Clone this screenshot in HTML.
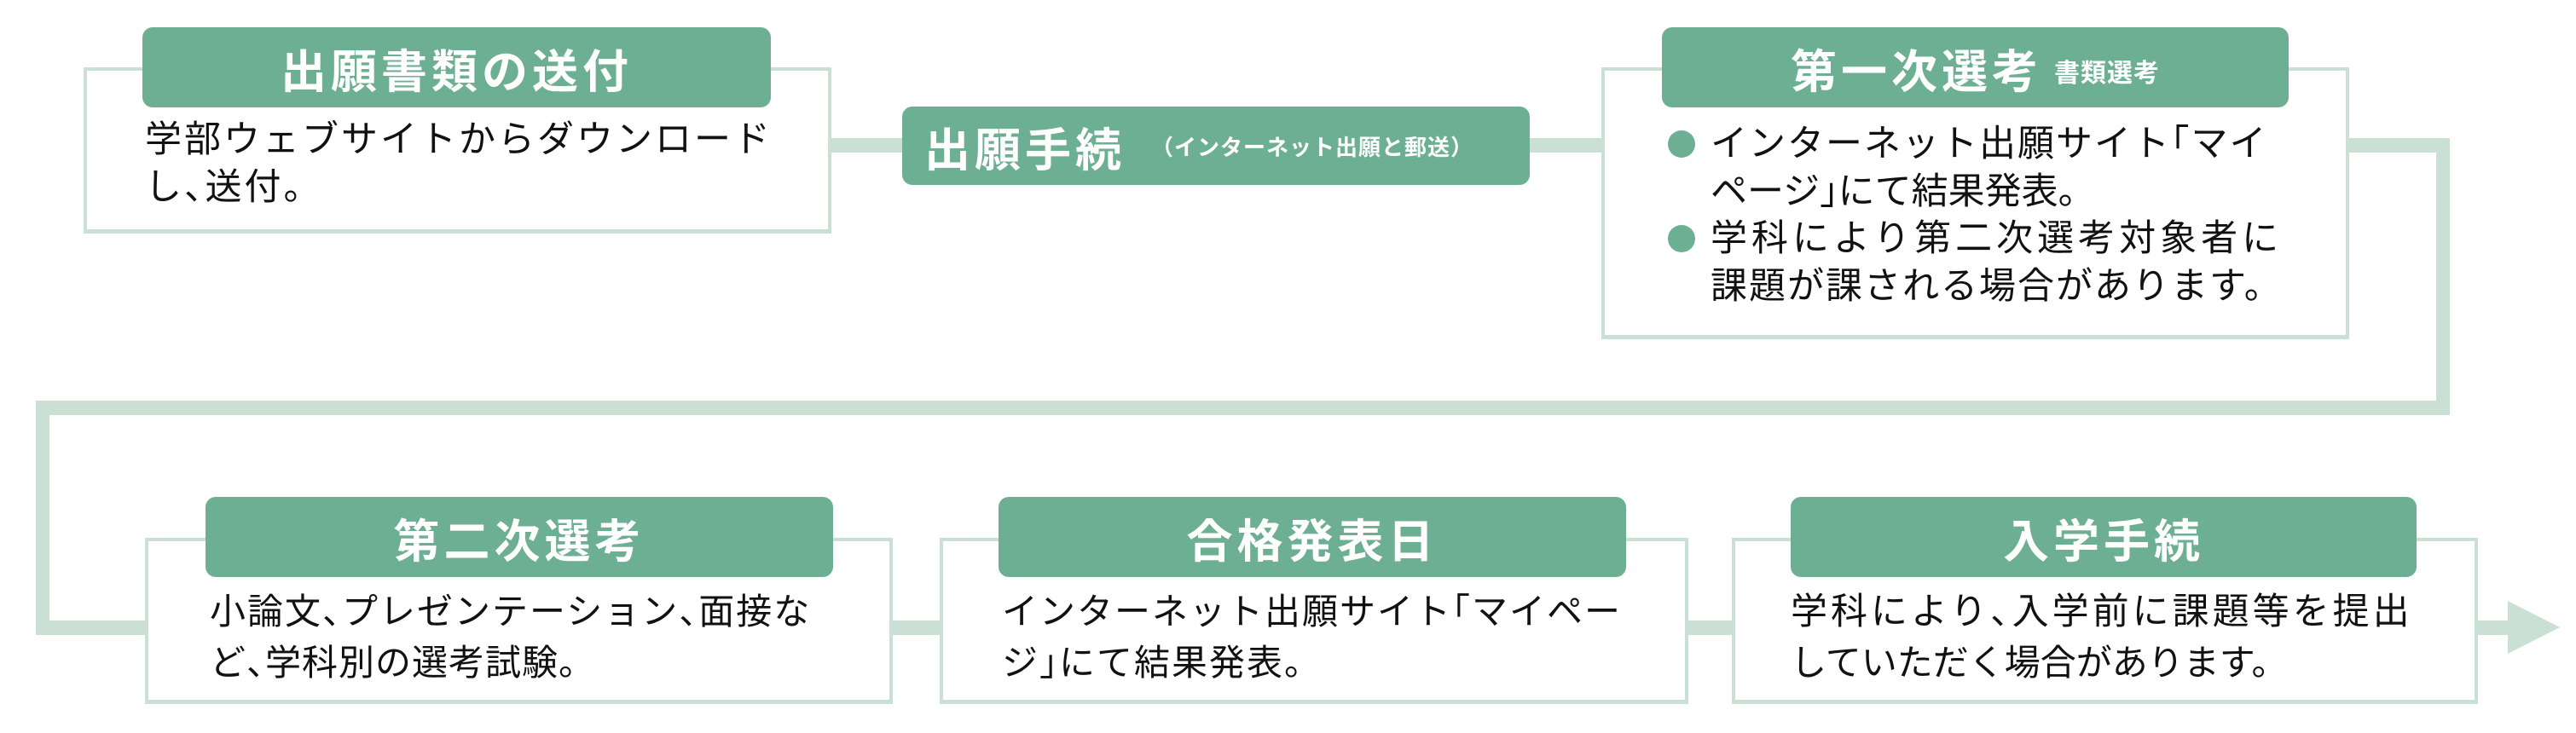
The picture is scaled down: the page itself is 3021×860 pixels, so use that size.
<!DOCTYPE html>
<html><head><meta charset="utf-8"><style>
body{margin:0;width:3021px;height:860px;background:#fff;position:relative;overflow:hidden;font-family:"Liberation Sans","Noto Sans CJK JP",sans-serif;}
.a{position:absolute;}
.band{position:absolute;background:#cbe0d5;}
.box{position:absolute;border:4px solid #cbe0d5;border-bottom-width:5px;background:#fff;box-sizing:border-box;}
.hd{position:absolute;background:#6daf93;border-radius:12px;color:#fff;font-weight:bold;font-size:54px;letter-spacing:5px;display:flex;align-items:center;justify-content:center;white-space:nowrap;}
.t{position:absolute;font-size:43px;line-height:56px;color:#111;white-space:nowrap;}
.h{font-feature-settings:"halt";}
.dot{position:absolute;width:32px;height:32px;border-radius:50%;background:#6daf93;}
</style></head><body>
<div class="band" style="left:970px;top:162px;width:1900px;height:17px"></div>
<div class="band" style="left:2857px;top:162px;width:16px;height:325px"></div>
<div class="band" style="left:42px;top:470px;width:2831px;height:17px"></div>
<div class="band" style="left:42px;top:470px;width:16px;height:275px"></div>
<div class="band" style="left:42px;top:728px;width:2910px;height:17px"></div>
<svg class="a" style="left:2940px;top:704px" width="64" height="64"><polygon points="1,1 62,32 1,63" fill="#cbe0d5"/></svg>

<div class="box" style="left:98px;top:79px;width:877px;height:195px"></div>
<div class="hd" style="left:167px;top:32px;width:737px;height:94px">出願書類の送付</div>
<div class="t" style="left:170px;top:136px;letter-spacing:3px">学部ウェブサイトからダウンロード</div>
<div class="t" style="left:170px;top:192px;letter-spacing:3px">し<span class="h">、</span>送付。</div>

<div class="hd" style="left:1058px;top:125px;width:736px;height:92px;justify-content:flex-start;padding-left:26px;box-sizing:border-box">出願手続<span style="font-size:26px;letter-spacing:1px;margin-left:30px">（インターネット出願と郵送）</span></div>

<div class="box" style="left:1878px;top:79px;width:877px;height:319px"></div>
<div class="hd" style="left:1949px;top:32px;width:735px;height:94px">第一次選考<span style="font-size:30px;letter-spacing:1px;margin-left:14px;margin-top:8px">書類選考</span></div>
<div class="dot" style="left:1956px;top:153px"></div>
<div class="dot" style="left:1956px;top:264px"></div>
<div class="t" style="left:2006px;top:141px;letter-spacing:2px">インターネット出願サイト<span class="h">「</span>マイ</div>
<div class="t" style="left:2006px;top:197px;letter-spacing:0px">ページ<span class="h">」</span>にて結果発表。</div>
<div class="t" style="left:2006px;top:252px;letter-spacing:5px">学科により第二次選考対象者に</div>
<div class="t" style="left:2006px;top:308px;letter-spacing:2px">課題が課される場合があります。</div>

<div class="box" style="left:170px;top:631px;width:877px;height:195px"></div>
<div class="hd" style="left:241px;top:583px;width:736px;height:94px">第二次選考</div>
<div class="t" style="left:246px;top:690px;font-size:42px;letter-spacing:2px">小論文<span class="h">、</span>プレゼンテーション<span class="h">、</span>面接な</div>
<div class="t" style="left:246px;top:750px;font-size:42px;letter-spacing:1px">ど<span class="h">、</span>学科別の選考試験。</div>

<div class="box" style="left:1102px;top:631px;width:878px;height:195px"></div>
<div class="hd" style="left:1171px;top:583px;width:736px;height:94px">合格発表日</div>
<div class="t" style="left:1175px;top:690px;font-size:42px;letter-spacing:2px">インターネット出願サイト<span class="h">「</span>マイペー</div>
<div class="t" style="left:1175px;top:750px;font-size:42px;letter-spacing:2px">ジ<span class="h">」</span>にて結果発表。</div>

<div class="box" style="left:2031px;top:631px;width:875px;height:195px"></div>
<div class="hd" style="left:2100px;top:583px;width:734px;height:94px">入学手続</div>
<div class="t" style="left:2100px;top:690px;font-size:43px;letter-spacing:4px">学科により<span class="h">、</span>入学前に課題等を提出</div>
<div class="t" style="left:2100px;top:750px;font-size:42px;letter-spacing:0px">していただく場合があります。</div>
</body></html>
